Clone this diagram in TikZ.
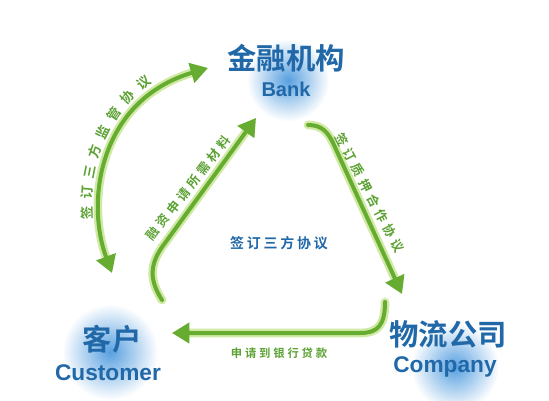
\documentclass[tikz,border=0pt]{standalone}
\usepackage{fontspec}
\setmainfont{Liberation Sans}
\newfontfamily\cjk{Noto Sans CJK SC Bold}
\usetikzlibrary{arrows.meta}
\definecolor{tblue}{RGB}{32,104,168}
\definecolor{agreen}{RGB}{102,172,48}
\definecolor{aglow}{RGB}{208,234,165}
\definecolor{lgreen}{RGB}{92,162,52}
\definecolor{orb}{RGB}{88,160,224}
\tikzset{bigtri/.tip={Triangle[width=15pt,length=13pt]}}
\begin{document}
\begin{tikzpicture}[x=0.75pt,y=0.75pt,
  title/.style={font=\cjk\fontsize{22}{22}\selectfont, text=tblue, inner sep=0pt},
  eng/.style={font=\bfseries\fontsize{17}{17}\selectfont, text=tblue, inner sep=0pt},
  flow/.style={line width=3pt, draw=agreen, line cap=round},
  glow/.style={line width=6.5pt, draw=aglow, line cap=round},
  glbl/.style={font=\cjk\fontsize{9.5}{9.5}\selectfont, text=lgreen, inner sep=0pt},
  orbshade/.style={inner color=orb, outer color=white}]
\useasboundingbox (0,0) rectangle (549,-400);
\fill[white] (0,0) rectangle (549,-400);

% orbs
\shade[orbshade] (288,-80) circle[radius=31pt];
\shade[orbshade] (110,-352) circle[radius=36pt];
\shade[orbshade] (455,-367) circle[radius=33pt];

% titles
\node[title] (bank) at (286,-58) {金融机构};
\node[eng, font=\bfseries\fontsize{15}{15}\selectfont] (bankE) at (286,-89) {Bank};
\node[title] (cust) at (112,-339) {客户};
\node[eng] (custE) at (108,-373) {Customer};
\node[title] (comp) at (448,-334) {物流公司};
\node[eng] (compE) at (445,-367) {Company};

% arrow end points
\coordinate (arcA) at (112,-273);
\coordinate (arcB) at (208,-68);
\coordinate (lA) at (162,-300);
\coordinate (lB) at (256,-118);
\coordinate (rA) at (308,-125);
\coordinate (rB) at (402,-294);
\coordinate (bA) at (385,-302);
\coordinate (bB) at (172,-333);

% glow underlays
\draw[glow, shorten <=12pt, shorten >=12pt] (arcA) .. controls (85,-200) and (100,-100) .. (arcB);
\draw[glow, shorten >=12pt] (lA) .. controls (150,-281) and (148,-265) .. (165,-243) -- (lB);
\draw[glow, shorten >=12pt] (rA) .. controls (322,-125) and (328,-132) .. (334,-145) -- (rB);
\draw[glow, shorten >=12pt] (bA) .. controls (385,-325) and (378,-333) .. (360,-333) -- (bB);

% arrows
\draw[flow, bigtri-bigtri] (arcA) .. controls (85,-200) and (100,-100) .. (arcB);
\draw[flow, -bigtri] (lA) .. controls (150,-281) and (148,-265) .. (165,-243) -- (lB);
\draw[flow, -bigtri] (rA) .. controls (322,-125) and (328,-132) .. (334,-145) -- (rB);
\draw[flow, -bigtri] (bA) .. controls (385,-325) and (378,-333) .. (360,-333) -- (bB);

% arc label
\path (97,-270) .. controls (71,-195) and (89,-85) .. (200,-56)
  foreach \c [count=\i, evaluate=\i as \p using 0.235+(\i-1)*0.0807] in {签,订,三,方,监,管,协,议}
  { node[glbl, font=\cjk\fontsize{10}{10}\selectfont, sloped, allow upside down, pos=\p] (arcl\i) {\c} };

% left diagonal label
\path (153,-234) -- (224,-143)
  foreach \c [count=\i, evaluate=\i as \p using (\i-1)/7] in {融,资,申,请,所,需,材,料}
  { node[glbl, sloped, pos=\p] (ll\i) {\c} };

% right diagonal label
\path (342,-140) -- (398,-246)
  foreach \c [count=\i, evaluate=\i as \p using (\i-1)/7] in {签,订,质,押,合,作,协,议}
  { node[glbl, sloped, pos=\p] (rl\i) {\c} };

% bottom and centre labels
\node[glbl, font=\cjk\fontsize{8.5}{8.5}\selectfont] (blbl) at (279,-353) {\addfontfeatures{LetterSpace=25}申请到银行贷款};
\node[font=\cjk\fontsize{10.5}{10.5}\selectfont, text=tblue, inner sep=0pt] (clbl) at (279,-243) {\addfontfeatures{LetterSpace=20}签订三方协议};
\end{tikzpicture}
\end{document}
